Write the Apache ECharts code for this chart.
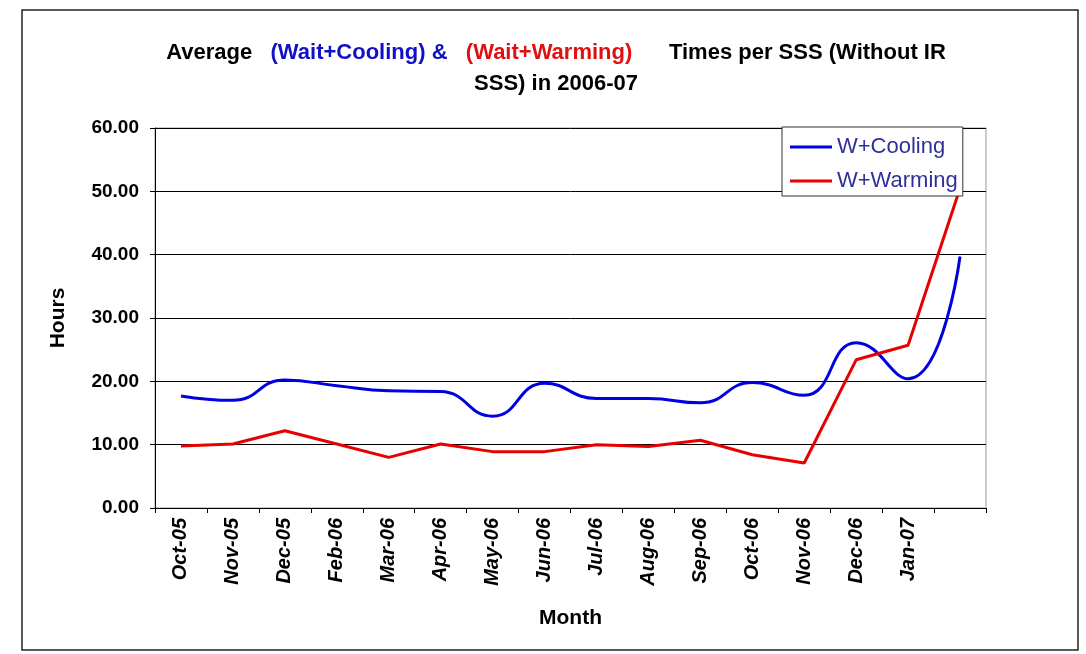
<!DOCTYPE html>
<html>
<head>
<meta charset="utf-8">
<script src="https://cdn.jsdelivr.net/npm/echarts@6/dist/echarts.min.js"></script>
<style>
  html, body { margin: 0; padding: 0; background: #fff; }
  #chart { width: 1086px; height: 654px; }
</style>
</head>
<body>
<div id="chart"></div>
<script>
// months on the x axis (last slot has no label in the original)
const months = ["Oct-05", "Nov-05", "Dec-05", "Feb-06", "Mar-06", "Apr-06", "May-06", "Jun-06",
  "Jul-06", "Aug-06", "Sep-06", "Oct-06", "Nov-06", "Dec-06", "Jan-07", ""];

// hours
const coolingHours = [17.7, 17.0, 20.2, 19.3, 18.5, 18.4, 14.5, 19.7, 17.3, 17.3, 16.6, 19.8, 17.8, 26.1, 20.4, 39.7];
const warmingHours = [9.8, 10.1, 12.2, 10.1, 8.0, 10.1, 8.9, 8.9, 10.0, 9.7, 10.7, 8.4, 7.1, 23.4, 25.7, 50.5];

const FONT = "'Liberation Sans', Arial, sans-serif";

const dom = document.getElementById("chart");
const chart = echarts.init(dom);

chart.setOption({
  backgroundColor: "#fff",
  animation: false,
  title: {
    left: 551,
    top: 32,
    textAlign: "center",
    text: "{k|Average   }{b|(Wait+Cooling) &   }{r|(Wait+Warming)}{k|      Times per SSS (Without IR}\n{k|SSS) in 2006-07}",
    textStyle: {
      rich: {
        k: { color: "#000", fontFamily: FONT, fontWeight: "bold", fontSize: 22, lineHeight: 31 },
        b: { color: "#1010c8", fontFamily: FONT, fontWeight: "bold", fontSize: 22, lineHeight: 31 },
        r: { color: "#e01010", fontFamily: FONT, fontWeight: "bold", fontSize: 22, lineHeight: 31 }
      }
    }
  },
  legend: {
    left: 782,
    top: 127,
    orient: "vertical",
    backgroundColor: "#fff",
    borderColor: "#333",
    borderWidth: 1,
    padding: [9, 5, 4, 8],
    itemGap: 12,
    itemWidth: 42,
    itemHeight: 14,
    itemTextGap: 3,
    icon: "path://M0,5.5 L42,5.5 L42,8.5 L0,8.5 Z",
    textStyle: { color: "#30309a", fontFamily: FONT, fontSize: 22, lineHeight: 22 },
    data: ["W+Cooling", "W+Warming"]
  },
  grid: {
    left: 155, right: 100, top: 128, bottom: 146,
    show: true, borderColor: "#999", borderWidth: 1
  },
  xAxis: {
    type: "category",
    data: months,
    boundaryGap: true,
    name: "Month",
    nameLocation: "middle",
    nameGap: 100,
    nameTextStyle: { color: "#000", fontFamily: FONT, fontWeight: "bold", fontSize: 21 },
    axisLine: { lineStyle: { color: "#000", width: 1 } },
    axisTick: { show: true, interval: 0, length: 5, lineStyle: { color: "#000" } },
    axisLabel: {
      interval: 0,
      rotate: 90,
      margin: 10,
      color: "#000",
      fontFamily: FONT,
      fontWeight: "bold",
      fontStyle: "italic",
      fontSize: 20
    },
    splitLine: { show: false }
  },
  yAxis: {
    type: "value",
    min: 0,
    max: 60,
    interval: 10,
    name: "Hours",
    nameLocation: "middle",
    nameGap: 86,
    nameRotate: 90,
    nameTextStyle: { color: "#000", fontFamily: FONT, fontWeight: "bold", fontSize: 21 },
    axisLine: { show: true, lineStyle: { color: "#000", width: 1 } },
    axisTick: { show: true, length: 5, lineStyle: { color: "#000" } },
    axisLabel: {
      margin: 16,
      color: "#000",
      fontFamily: FONT,
      fontWeight: "bold",
      fontSize: 19,
      formatter: v => v.toFixed(2)
    },
    splitLine: { show: true, lineStyle: { color: "#000", width: 1 } }
  },
  series: [
    {
      name: "W+Cooling",
      type: "line",
      data: coolingHours,
      smooth: 0.5,
      showSymbol: false,
      itemStyle: { color: "#0000e0" },
      lineStyle: { color: "#0000e0", width: 3 }
    },
    {
      name: "W+Warming",
      type: "line",
      data: warmingHours,
      smooth: false,
      showSymbol: false,
      itemStyle: { color: "#e80000" },
      lineStyle: { color: "#e80000", width: 3 }
    }
  ],
  graphic: [
    {
      type: "rect",
      shape: { x: 22, y: 10, width: 1056, height: 640 },
      style: { fill: "none", stroke: "#222", lineWidth: 1.5 },
      silent: true
    }
  ]
});
</script>
</body>
</html>
